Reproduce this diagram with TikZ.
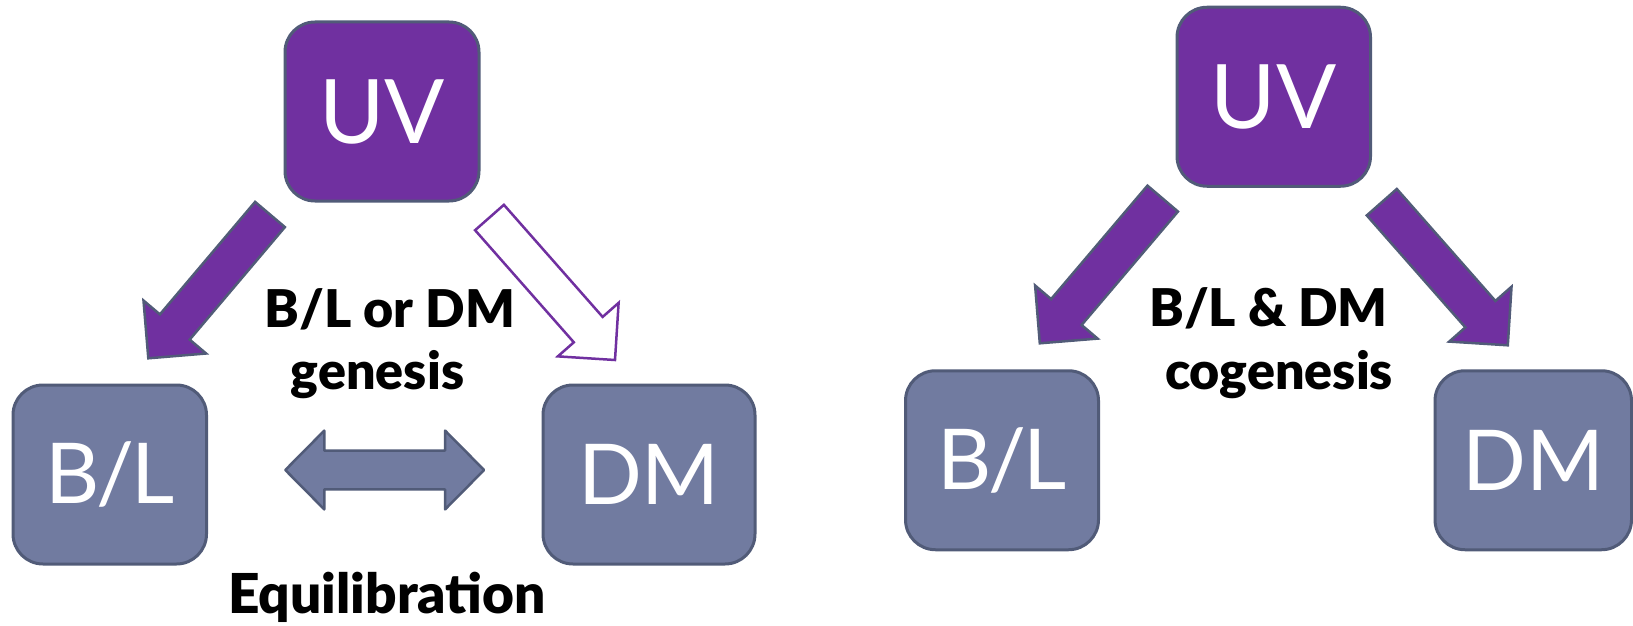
\documentclass[tikz,border=0pt]{standalone}
\usepackage{fontspec}
\setmainfont{Lato}[BoldFont={* Black}]
\usetikzlibrary{calc}
\definecolor{uvpurple}{HTML}{7030A0}
\definecolor{boxfill}{HTML}{717BA0}
\definecolor{edgegray}{HTML}{515B78}
\newcommand\blockarrow[6]{%
  \coordinate (#1b) at ($(#4)!#6!(#3)$);
  \draw[#2] ($(#3)!#5!90:(#4)$) -- ($(#1b)!#5!90:(#4)$) -- ($(#1b)!#6!90:(#4)$) -- (#4)
    -- ($(#1b)!#6!-90:(#4)$) -- ($(#1b)!#5!-90:(#4)$) -- ($(#3)!#5!-90:(#4)$) -- cycle;}
\begin{document}
\begin{tikzpicture}[x=1pt,y=-1pt,
  uvbox/.style={draw=edgegray,line width=3pt,fill=uvpurple,rounded corners=30pt,
    minimum height=179pt,inner sep=0pt,text=white,font=\fontsize{89}{100}\selectfont},
  sbox/.style={draw=edgegray,line width=3pt,fill=boxfill,rounded corners=30pt,
    minimum height=179pt,inner sep=0pt,text=white,font=\fontsize{84}{96}\selectfont},
  fullarrow/.style={draw=edgegray,line width=2.5pt,fill=uvpurple,line join=miter},
  openarrow/.style={draw=uvpurple,line width=2.5pt,fill=white,line join=miter},
  dblarrow/.style={draw=edgegray,line width=2.5pt,fill=boxfill,line join=round},
  lbl/.style={anchor=base,inner sep=0pt,font=\bfseries\fontsize{52}{62}\selectfont},
]
\useasboundingbox[fill=white] (0,0) rectangle (1633,626);
% left diagram
\node[uvbox,minimum width=194pt] (uvL) at (382,111.5) {UV};
\node[sbox,minimum width=193.5pt] (blL) at (109.75,474.5) {B\kern-0.04em/\kern-0.04em L};
\node[sbox,minimum width=212pt] (dmL) at (649,474.5) {DM};
\coordinate (aLt) at (270,214.5);
\coordinate (aLh) at (148.3,358.3);
\blockarrow{aL}{fullarrow}{aLt}{aLh}{19.5pt}{41pt}
\coordinate (oLt) at (489.5,217.5);
\coordinate (oLh) at (615,360);
\blockarrow{oL}{openarrow}{oLt}{oLh}{19.2pt}{40.5pt}
\coordinate (dl) at (285.3,470);
\coordinate (dr) at (484.1,470);
\draw[dblarrow] (dl) -- ($(dl)+(39,-39.4)$) -- ($(dl)+(39,-19.4)$) -- ($(dr)+(-39,-19.4)$)
  -- ($(dr)+(-39,-39.4)$) -- (dr) -- ($(dr)+(-39,39.4)$) -- ($(dr)+(-39,19.4)$)
  -- ($(dl)+(39,19.4)$) -- ($(dl)+(39,39.4)$) -- cycle;
\node[lbl] (t1) at (390,327) {B/L or DM};
\node[lbl] (t2) at (377.5,389) {genesis};
\node[lbl,font=\bfseries\fontsize{55}{66}\selectfont] (t3) at (387,613) {Equilibration};
% right diagram
\node[uvbox,minimum width=193.5pt] (uvR) at (1273.75,96.75) {UV};
\node[sbox,minimum width=193pt] (blR) at (1002,460.25) {B\kern-0.04em/\kern-0.04em L};
\node[sbox,minimum width=196.5pt] (dmR) at (1533.25,460.25) {DM};
\coordinate (aR1t) at (1162.7,198.6);
\coordinate (aR1h) at (1039.8,343.3);
\blockarrow{aR1}{fullarrow}{aR1t}{aR1h}{20pt}{41pt}
\coordinate (aR2t) at (1381.8,202.2);
\coordinate (aR2h) at (1507.8,345.3);
\blockarrow{aR2}{fullarrow}{aR2t}{aR2h}{20pt}{41.5pt}
\node[lbl] (t4) at (1268.5,326) {B/L \& DM};
\node[lbl] (t5) at (1279,389) {cogenesis};
\end{tikzpicture}
\end{document}
